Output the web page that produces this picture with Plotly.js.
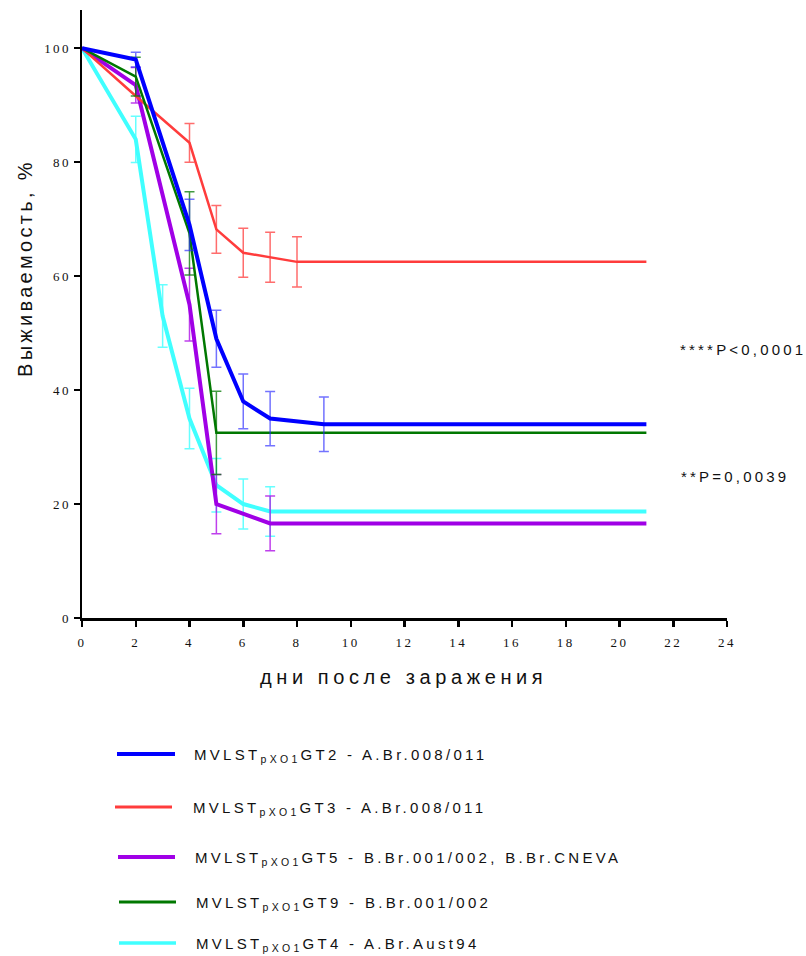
<!DOCTYPE html>
<html>
<head>
<meta charset="utf-8">
<script src="https://cdn.plot.ly/plotly-3.0.1.min.js"></script>
<style>
  html, body { margin: 0; padding: 0; background: #fff; }
  #chart { width: 806px; height: 956px; }
  .xtick text, .ytick text { letter-spacing: 2.4px; }
</style>
</head>
<body>
<div id="chart"></div>
<script>
// ---- data ----
const seriesNames = [
  "MVLST<sub>pXO1</sub>GT2 - A.Br.008/011",
  "MVLST<sub>pXO1</sub>GT3 - A.Br.008/011",
  "MVLST<sub>pXO1</sub>GT5 - B.Br.001/002, B.Br.CNEVA",
  "MVLST<sub>pXO1</sub>GT9 - B.Br.001/002",
  "MVLST<sub>pXO1</sub>GT4 - A.Br.Aust94"
];

// NaN = no error bar at that point
const daysGT2 = [0, 2, 4, 5, 6, 7, 9, 21];
const survGT2 = [100, 98, 69, 49, 38, 35, 34, 34];
const errGT2  = [NaN, 1.3, 4.5, 5, 4.8, 4.75, 4.8, NaN];

const daysGT3 = [0, 2, 4, 5, 6, 7, 8, 21];
const survGT3 = [100, 91.6, 83.4, 68.2, 64.1, 63.3, 62.5, 62.5];
const errGT3  = [NaN, NaN, 3.4, 4.2, 4.3, 4.4, 4.4, NaN];

const daysGT5 = [0, 2, 4, 5, 7, 21];
const survGT5 = [100, 93.5, 55, 20, 16.6, 16.6];
const errGT5  = [NaN, 3.1, 6.4, 5.2, 4.8, NaN];

const daysGT9 = [0, 2, 4, 5, 21];
const survGT9 = [100, 95, 67.5, 32.5, 32.5];
const errGT9  = [NaN, 3.4, 7.3, 7.3, NaN];

const daysGT4 = [0, 2, 3, 4, 5, 6, 7, 21];
const survGT4 = [100, 84, 53, 35, 23.3, 20, 18.7, 18.7];
const errGT4  = [NaN, 4.05, 5.5, 5.3, 4.7, 4.4, 4.35, NaN];

const xTicks = [0, 2, 4, 6, 8, 10, 12, 14, 16, 18, 20, 22, 24];
const yTicks = [0, 20, 40, 60, 80, 100];

const xTitle = "дни после заражения";
const yTitle = "Выживаемость, %";
const pTexts = ["****P&lt;0,0001", "**P=0,0039"];

// ---- styles ----
const colors = ["#0000ff", "#ff3c3c", "#a000e6", "#007800", "#40ffff"];
const errColors = ["rgba(40,40,255,0.65)", "rgba(255,60,60,0.75)", "rgba(170,0,230,0.75)", "rgba(0,120,0,0.75)", "rgba(64,255,255,0.8)"];
const lineWidths = [4, 2.5, 4, 2.5, 4];
const legendWidths = [4, 3, 4, 3, 3.5];

const allDays = [daysGT2, daysGT3, daysGT5, daysGT9, daysGT4];
const allSurv = [survGT2, survGT3, survGT5, survGT9, survGT4];
const allErr  = [errGT2, errGT3, errGT5, errGT9, errGT4];

// drawing order: cyan, purple, red, green, blue
const drawOrder = [4, 2, 1, 3, 0];
const traces = drawOrder.map(i => ({
  type: "scatter",
  mode: "lines",
  x: allDays[i],
  y: allSurv[i],
  name: seriesNames[i],
  showlegend: false,
  cliponaxis: false,
  line: { color: colors[i], width: lineWidths[i] },
  error_y: {
    type: "data",
    array: allErr[i],
    symmetric: true,
    visible: true,
    color: errColors[i],
    thickness: 1.5,
    width: 5
  },
  hoverinfo: "skip"
}));

// pixel -> paper helpers (plot area: x 82..727, y 10..618)
const L = 82, R = 727, T = 10, B = 618;
const px = v => (v - L) / (R - L);
const py = v => (B - v) / (B - T);

const legendRowsY = [754, 807, 857, 902, 943];
const legendLineX = [[117, 175], [115, 172], [118, 175], [119, 176], [119, 176]];
const legendTextX = [192, 191, 193, 194, 194];

const shapes = [];
const annotations = [];
for (let i = 0; i < seriesNames.length; i++) {
  shapes.push({
    type: "line", xref: "paper", yref: "paper",
    x0: px(legendLineX[i][0]), x1: px(legendLineX[i][1]),
    y0: py(legendRowsY[i]), y1: py(legendRowsY[i]),
    line: { color: colors[i], width: legendWidths[i] }
  });
  annotations.push({
    xref: "paper", yref: "paper",
    x: px(legendTextX[i]), y: py(legendRowsY[i] + 1),
    xanchor: "left", yanchor: "middle", align: "left",
    showarrow: false,
    text: '<span style="letter-spacing:3.3px">' + seriesNames[i] + '</span>',
    font: { family: "Liberation Sans, Arial, sans-serif", size: 15, color: "#111" }
  });
}

annotations.push({
  xref: "paper", yref: "paper",
  x: px(403), y: py(677),
  xanchor: "center", yanchor: "middle", showarrow: false,
  text: '<span style="letter-spacing:4.6px">' + xTitle + '</span>',
  font: { family: "Liberation Sans, Arial, sans-serif", size: 20, color: "#111" }
});
annotations.push({
  xref: "paper", yref: "paper",
  x: px(25), y: py(268),
  xanchor: "center", yanchor: "middle", showarrow: false,
  textangle: -90,
  text: '<span style="letter-spacing:3.3px">' + yTitle + '</span>',
  font: { family: "Liberation Sans, Arial, sans-serif", size: 20, color: "#111" }
});
annotations.push({
  xref: "paper", yref: "paper",
  x: px(678), y: py(349),
  xanchor: "left", yanchor: "middle", showarrow: false,
  text: '<span style="letter-spacing:3.2px">' + pTexts[0] + '</span>',
  font: { family: "Liberation Sans, Arial, sans-serif", size: 15, color: "#111" }
});
annotations.push({
  xref: "paper", yref: "paper",
  x: px(679), y: py(476),
  xanchor: "left", yanchor: "middle", showarrow: false,
  text: '<span style="letter-spacing:3.2px">' + pTexts[1] + '</span>',
  font: { family: "Liberation Sans, Arial, sans-serif", size: 15, color: "#111" }
});

const axisCommon = {
  showline: true, linecolor: "#000", linewidth: 2.5,
  ticks: "outside", ticklen: 6, tickwidth: 2.5, tickcolor: "#000",
  showgrid: false, zeroline: false, mirror: false,
  tickfont: { family: "Liberation Serif, Times New Roman, serif", size: 13, color: "#111" },
  fixedrange: true
};

const layout = {
  width: 806, height: 956,
  margin: { l: L, r: 806 - R, t: T, b: 956 - B, pad: 0 },
  paper_bgcolor: "#fff", plot_bgcolor: "#fff",
  showlegend: false,
  xaxis: Object.assign({}, axisCommon, {
    range: [0, 24], tickmode: "array", tickvals: xTicks, ticktext: xTicks.map(String),
    ticklabelstandoff: 5
  }),
  yaxis: Object.assign({}, axisCommon, {
    range: [0, 106.7], tickmode: "array", tickvals: yTicks, ticktext: yTicks.map(String),
    ticklabelstandoff: 0
  }),
  shapes: shapes,
  annotations: annotations
};

Plotly.newPlot("chart", traces, layout, { displayModeBar: false, staticPlot: true });
</script>
</body>
</html>
